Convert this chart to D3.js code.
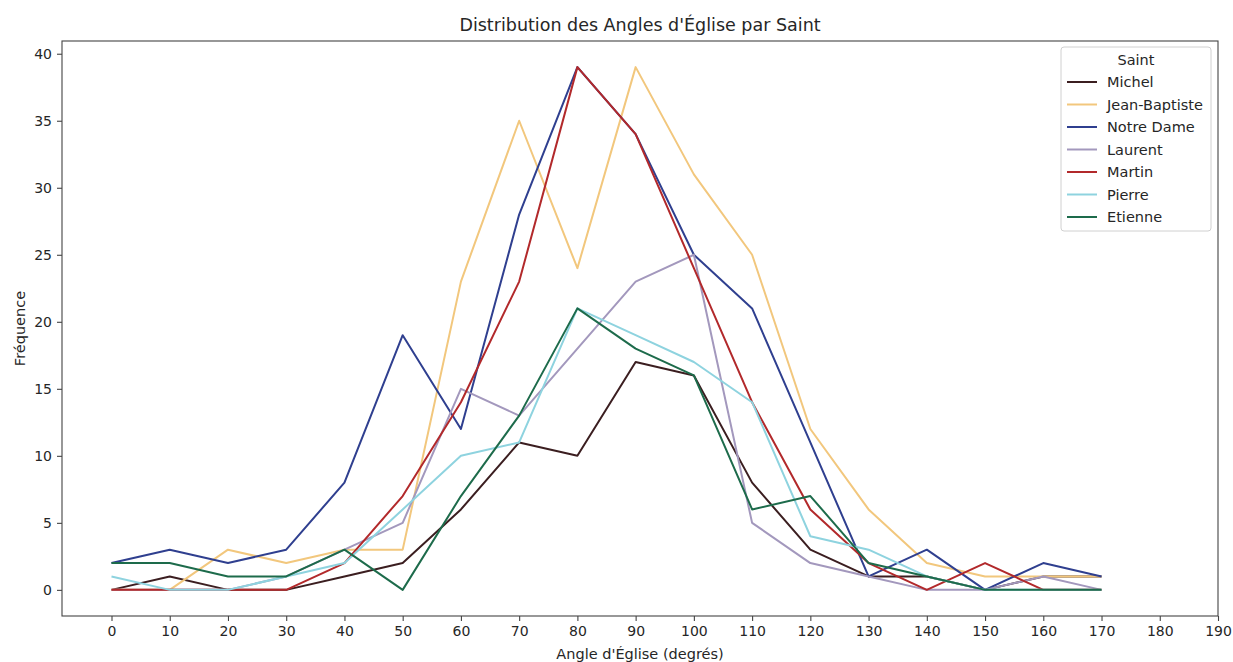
<!DOCTYPE html>
<html>
<head>
<meta charset="utf-8">
<script src="https://cdn.jsdelivr.net/npm/d3@7"></script>
<style>
  body { margin: 0; background: #fff; }
  text { font-family: "DejaVu Sans", sans-serif; fill: #262626; }
</style>
</head>
<body>
<div id="chart"></div>
<script>
var angles = [0, 10, 20, 30, 40, 50, 60, 70, 80, 90, 100, 110, 120, 130, 140, 150, 160, 170];
var xTicks = [0, 10, 20, 30, 40, 50, 60, 70, 80, 90, 100, 110, 120, 130, 140, 150, 160, 170, 180, 190];
var yTicks = [0, 5, 10, 15, 20, 25, 30, 35, 40];

var saints = ["Michel", "Jean-Baptiste", "Notre Dame", "Laurent", "Martin", "Pierre", "Etienne"];
var colors = ["#3b1e20", "#f2c77d", "#2f3f8f", "#a398bd", "#b2292b", "#8ed3df", "#1d6b4b"];

var michel       = [0, 1, 0, 0, 1, 2, 6, 11, 10, 17, 16, 8, 3, 1, 1, 0, 1, 1];
var jeanBaptiste = [0, 0, 3, 2, 3, 3, 23, 35, 24, 39, 31, 25, 12, 6, 2, 1, 1, 1];
var notreDame    = [2, 3, 2, 3, 8, 19, 12, 28, 39, 34, 25, 21, 11, 1, 3, 0, 2, 1];
var laurent      = [0, 0, 0, 1, 3, 5, 15, 13, 18, 23, 25, 5, 2, 1, 0, 0, 1, 0];
var martin       = [0, 0, 0, 0, 2, 7, 14, 23, 39, 34, 24, 14, 6, 2, 0, 2, 0, 0];
var pierre       = [1, 0, 0, 1, 2, 6, 10, 11, 21, 19, 17, 14, 4, 3, 1, 0, 0, 0];
var etienne      = [2, 2, 1, 1, 3, 0, 7, 13, 21, 18, 16, 6, 7, 2, 1, 0, 0, 0];

var series = [michel, jeanBaptiste, notreDame, laurent, martin, pierre, etienne];

var W = 1233, H = 662;
var margin = {top: 41, right: 15, bottom: 46, left: 62},
    width = W - margin.left - margin.right,
    height = H - margin.top - margin.bottom;

var svg = d3.select("#chart").append("svg")
    .attr("width", W)
    .attr("height", H);

var g = svg.append("g")
    .attr("transform", "translate(" + margin.left + "," + margin.top + ")");

var x = d3.scaleLinear().domain([-8.5, 190]).range([0, width]);
var y = d3.scaleLinear().domain([-1.95, 40.95]).range([height, 0]);

var xAxis = g.append("g")
    .attr("transform", "translate(0," + height + ")")
    .call(d3.axisBottom(x).tickValues(xTicks).tickSize(5).tickPadding(5).tickFormat(d3.format("d")));
var yAxis = g.append("g")
    .call(d3.axisLeft(y).tickValues(yTicks).tickSize(5).tickPadding(5).tickFormat(d3.format("d")));

[xAxis, yAxis].forEach(function(a) {
    a.select(".domain").remove();
    a.selectAll("line").attr("stroke", "#444").attr("stroke-width", 1.1);
    a.selectAll("text").style("font-size", "14px").style("font-family", "DejaVu Sans, sans-serif").attr("fill", "#262626");
});

var line = d3.line()
    .x(function(d, i) { return x(angles[i]); })
    .y(function(d) { return y(d); });

g.append("g").selectAll("path").data(series).enter()
    .append("path")
    .attr("d", line)
    .attr("fill", "none")
    .attr("stroke", function(d, i) { return colors[i]; })
    .attr("stroke-width", 2)
    .attr("stroke-linejoin", "round");

// frame
g.append("rect")
    .attr("width", width)
    .attr("height", height)
    .attr("fill", "none")
    .attr("stroke", "#444")
    .attr("stroke-width", 1.1);

svg.append("text")
    .attr("x", margin.left + width / 2)
    .attr("y", 31)
    .attr("text-anchor", "middle")
    .style("font-size", "17.5px")
    .text("Distribution des Angles d'Église par Saint");

svg.append("text")
    .attr("x", margin.left + width / 2)
    .attr("y", 659)
    .attr("text-anchor", "middle")
    .style("font-size", "14.5px")
    .text("Angle d'Église (degrés)");

svg.append("text")
    .attr("transform", "rotate(-90)")
    .attr("x", -(margin.top + height / 2))
    .attr("y", 25)
    .attr("text-anchor", "middle")
    .style("font-size", "14.5px")
    .text("Fréquence");

// legend
var lg = svg.append("g").attr("transform", "translate(1061,47)");
lg.append("rect")
    .attr("width", 150)
    .attr("height", 184)
    .attr("rx", 3)
    .attr("fill", "#fff")
    .attr("fill-opacity", 0.8)
    .attr("stroke", "#d0d0d0");
lg.append("text")
    .attr("x", 75)
    .attr("y", 18)
    .attr("text-anchor", "middle")
    .style("font-size", "14.5px")
    .text("Saint");
var item = lg.selectAll(".item").data(saints).enter()
    .append("g")
    .attr("transform", function(d, i) { return "translate(0," + (35 + i * 22.5) + ")"; });
item.append("line")
    .attr("x1", 6).attr("x2", 36)
    .attr("stroke", function(d, i) { return colors[i]; })
    .attr("stroke-width", 2);
item.append("text")
    .attr("x", 46)
    .attr("dy", "0.35em")
    .style("font-size", "14.5px")
    .text(function(d) { return d; });
</script>
</body>
</html>
